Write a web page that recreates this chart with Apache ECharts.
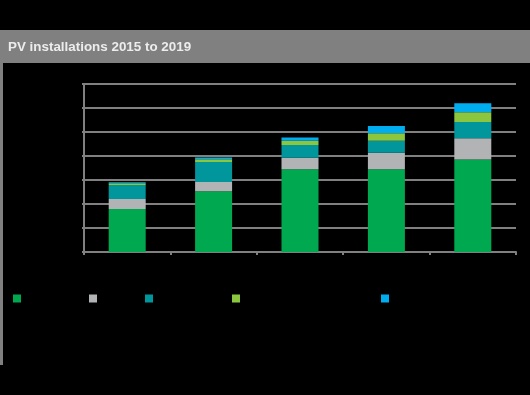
<!DOCTYPE html>
<html>
<head>
<meta charset="utf-8">
<script src="https://cdn.jsdelivr.net/npm/echarts@6/dist/echarts.min.js"></script>
<style>
html,body{margin:0;padding:0;background:#000;}
#c{width:530px;height:395px;}
</style>
</head>
<body>
<div id="c"></div>
<script>
var title = 'PV installations 2015 to 2019';
var categories = ['2015', '2016', '2017', '2018', '2019'];
var seriesNames = ['Utility-scale', 'Commercial', 'Residential rooftop', 'Community and off-grid systems', 'Other'];
var utility = [17.9, 25.3, 34.5, 34.5, 38.5];
var commercial = [4.2, 3.9, 4.8, 6.9, 8.9];
var residential = [5.8, 8.3, 5.3, 5.0, 6.8];
var community = [0.7, 1.1, 1.8, 3.1, 4.0];
var other = [0.5, 0.8, 1.3, 3.0, 3.75];
var yTicks = [0, 10, 20, 30, 40, 50, 60, 70];

var colors = ['#00A84F', '#B1B3B5', '#00969C', '#8CC63F', '#00AEEF'];
var values = [utility, commercial, residential, community, other];
var legendLeft = [13, 89, 145, 232, 381];

var chart = echarts.init(document.getElementById('c'), null, {renderer: 'canvas'});
var series = seriesNames.map(function (n, i) {
  return {
    name: n,
    type: 'bar',
    stack: 'total',
    barWidth: 37,
    data: values[i],
    itemStyle: {color: colors[i]}
  };
});
var legends = seriesNames.map(function (n, i) {
  return {
    data: [n],
    left: legendLeft[i],
    top: 293,
    icon: 'rect',
    itemWidth: 8,
    itemHeight: 8,
    padding: 0,
    selectedMode: false,
    textStyle: {color: '#000', fontSize: 11, fontFamily: 'Liberation Sans'}
  };
});
chart.setOption({
  backgroundColor: '#000',
  animation: false,
  color: colors,
  title: {
    text: title,
    left: 8,
    top: 41,
    padding: 0,
    textStyle: {color: '#ececec', fontSize: 13.4, fontWeight: 'bold', fontFamily: 'Liberation Sans'}
  },
  graphic: [
    {type: 'rect', z: -1, shape: {x: 0, y: 30, width: 530, height: 33}, style: {fill: '#808080'}},
    {type: 'rect', z: -1, shape: {x: 0, y: 63, width: 3, height: 302}, style: {fill: '#808080'}}
  ],
  legend: legends,
  grid: {left: 84, right: 14, top: 84, bottom: 143, containLabel: false},
  xAxis: {
    type: 'category',
    data: categories,
    axisLine: {lineStyle: {color: '#808080', width: 2}},
    axisTick: {show: true, length: 3, lineStyle: {color: '#808080', width: 2}},
    axisLabel: {color: '#000', fontSize: 11}
  },
  yAxis: {
    type: 'value',
    min: yTicks[0],
    max: yTicks[yTicks.length - 1],
    interval: yTicks[1] - yTicks[0],
    axisLine: {show: true, lineStyle: {color: '#808080', width: 2}},
    axisTick: {show: true, length: 2, lineStyle: {color: '#808080', width: 2}},
    axisLabel: {color: '#000', fontSize: 11},
    splitLine: {lineStyle: {color: '#808080', width: 2}}
  },
  series: series
});
</script>
</body>
</html>
